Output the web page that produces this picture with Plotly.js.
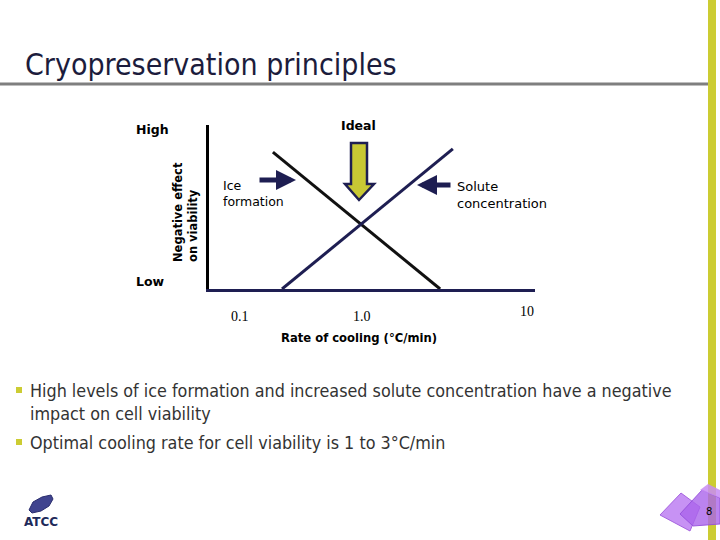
<!DOCTYPE html>
<html>
<head>
<meta charset="utf-8">
<script src="https://cdn.plot.ly/plotly-3.0.1.min.js"></script>
<style>html,body{margin:0;padding:0;background:#fff;}#chart{width:720px;height:540px;}</style>
</head>
<body>
<div id="chart"></div>
<script>
// ---- data ----
const rateTickLabels = ['0.1', '1.0', '10'];
const rateTickPos = [9.5, 46.9, 97.5];           // conceptual position along the cooling-rate axis (0-100)
const iceFormationX = [19.6, 70.9];               // "Ice formation" curve
const iceFormationY = [83.5, 0];
const soluteConcX = [22.4, 74.8];                 // "Solute concentration" curve
const soluteConcY = [0, 85.4];
const bulletLines = [
  'High levels of ice formation and increased solute concentration have a negative',
  'impact on cell viability',
  'Optimal cooling rate for cell viability is 1 to 3°C/min'
];

// ---- helpers (pixel -> paper) ----
const W = 720, H = 540;
const px = x => x / W;
const py = y => 1 - y / H;
const NAVY = '#1e1e52';
const LIME = '#cccc33';

const traces = [
  {x: iceFormationX, y: iceFormationY, mode: 'lines', line: {color: '#111111', width: 3}, hoverinfo: 'skip', showlegend: false},
  {x: soluteConcX, y: soluteConcY, mode: 'lines', line: {color: NAVY, width: 3}, hoverinfo: 'skip', showlegend: false}
];

const ann = [];
function txt(t, x, y, opts) {
  ann.push(Object.assign({text: t, x: px(x), y: py(y), xref: 'paper', yref: 'paper', showarrow: false,
    xanchor: 'left', yanchor: 'middle', font: {family: 'DejaVu Sans', size: 12, color: '#000'}}, opts || {}));
}

// Title
txt('Cryopreservation principles', 23, 65, {font: {family: 'DejaVu Sans Condensed, DejaVu Sans', size: 30, color: '#1c1c3c'}});
// chart labels
txt('<b>High</b>', 134, 130, {font: {family: 'DejaVu Sans', size: 12.5, color: '#000'}});
txt('<b>Low</b>', 134, 281, {font: {family: 'DejaVu Sans', size: 12.5, color: '#000'}});
txt('<b>Ideal</b>', 358, 125, {xanchor: 'center', font: {family: 'DejaVu Sans', size: 12.5, color: '#000'}});
txt('<b>Negative effect<br>on viability</b>', 185, 212, {xanchor: 'center', align: 'left', textangle: -90,
  font: {family: 'DejaVu Sans', size: 11.5, color: '#000'}});
txt('Ice<br>formation', 221, 193, {align: 'left', font: {family: 'DejaVu Sans', size: 12.5, color: '#000'}});
txt('Solute<br>concentration', 455, 195, {align: 'left', font: {family: 'DejaVu Sans', size: 13, color: '#000'}});
txt('<b>Rate of cooling (°C/min)</b>', 359, 338, {xanchor: 'center', font: {family: 'DejaVu Sans', size: 11.6, color: '#000'}});
// cooling-rate tick labels
const tickY = [316, 316, 311];
rateTickLabels.forEach((t, i) => {
  ann.push({text: t, x: rateTickPos[i], xref: 'x', y: py(tickY[i]), yref: 'paper', showarrow: false,
    xanchor: 'center', yanchor: 'middle', font: {family: 'Liberation Serif', size: 14, color: '#000'}});
});
// bullets
const bulletY = [390, 413, 442];
bulletLines.forEach((t, i) => {
  txt(t, 28, bulletY[i], {font: {family: 'DejaVu Sans Condensed, DejaVu Sans', size: 17.8, color: '#333333'}});
});
// arrows
ann.push({x: px(296), y: py(180), xref: 'paper', yref: 'paper', text: '', showarrow: true,
  ax: -38, ay: 0, arrowcolor: NAVY, arrowwidth: 5, arrowhead: 2, arrowsize: 0.8});
ann.push({x: px(417), y: py(185), xref: 'paper', yref: 'paper', text: '', showarrow: true,
  ax: 35, ay: 0, arrowcolor: NAVY, arrowwidth: 5, arrowhead: 2, arrowsize: 0.8});
// logo + page number
txt('<b>ATCC</b>', 41, 522, {xanchor: 'center', font: {family: 'DejaVu Sans', size: 12, color: '#1e2a5a'}});
txt('8', 709, 511, {xanchor: 'center', font: {family: 'DejaVu Sans', size: 10, color: '#000'}});

function poly(pts) {
  return 'M ' + pts.map(p => px(p[0]) + ' ' + py(p[1])).join(' L ') + ' Z';
}

const shapes = [
  // lime sidebar
  {type: 'rect', xref: 'paper', yref: 'paper', x0: px(708), x1: px(716), y0: 0, y1: 1, fillcolor: LIME, line: {width: 0}, layer: 'below'},
  // title rule
  {type: 'line', xref: 'paper', yref: 'paper', x0: 0, x1: px(708), y0: py(84), y1: py(84), line: {color: '#7f7f7f', width: 3}},
  // Ideal arrow
  {type: 'path', xref: 'paper', yref: 'paper', fillcolor: '#c8c834', line: {color: NAVY, width: 2.5},
    path: poly([[351, 143], [367, 143], [367, 184], [374, 184], [359, 200], [345, 184], [351, 184]])},
  // bullets squares
  {type: 'rect', xref: 'paper', yref: 'paper', x0: px(16), x1: px(22), y0: py(393), y1: py(387), fillcolor: LIME, line: {width: 0}},
  {type: 'rect', xref: 'paper', yref: 'paper', x0: px(16), x1: px(22), y0: py(445), y1: py(439), fillcolor: LIME, line: {width: 0}},
  // logo globe
  {type: 'path', xref: 'paper', yref: 'paper', fillcolor: '#40448f', line: {color: '#2a2d6e', width: 1},
    path: poly([[29, 510], [33, 502], [42, 497], [51, 495], [53, 499], [49, 506], [41, 511], [32, 513]])},
  // purple tiles
  {type: 'path', xref: 'paper', yref: 'paper', fillcolor: 'rgba(180,110,240,0.75)', line: {color: 'rgba(160,90,220,0.9)', width: 1},
    path: poly([[660, 515], [681, 493], [700, 507], [690, 531]])},
  {type: 'path', xref: 'paper', yref: 'paper', fillcolor: 'rgba(170,100,235,0.8)', line: {color: 'rgba(150,80,220,0.9)', width: 1},
    path: poly([[680, 514], [702, 490], [720, 498], [720, 524], [693, 526]])},
  {type: 'path', xref: 'paper', yref: 'paper', fillcolor: 'rgba(200,140,245,0.85)', line: {width: 0},
    path: poly([[700, 490], [708, 484], [720, 490], [720, 498]])}
];

const layout = {
  width: W, height: H,
  margin: {l: 0, r: 0, t: 0, b: 0},
  paper_bgcolor: '#ffffff', plot_bgcolor: 'rgba(0,0,0,0)',
  showlegend: false,
  xaxis: {domain: [px(209), px(535)], range: [0, 100], showgrid: false, zeroline: false, showticklabels: false,
    ticks: '', showline: true, linecolor: NAVY, linewidth: 3, fixedrange: true},
  yaxis: {domain: [py(289), py(125)], range: [0, 100], showgrid: false, zeroline: false, showticklabels: false,
    ticks: '', showline: true, linecolor: '#000000', linewidth: 3, fixedrange: true},
  annotations: ann,
  shapes: shapes
};

Plotly.newPlot('chart', traces, layout, {staticPlot: true, displayModeBar: false});
</script>
</body>
</html>
